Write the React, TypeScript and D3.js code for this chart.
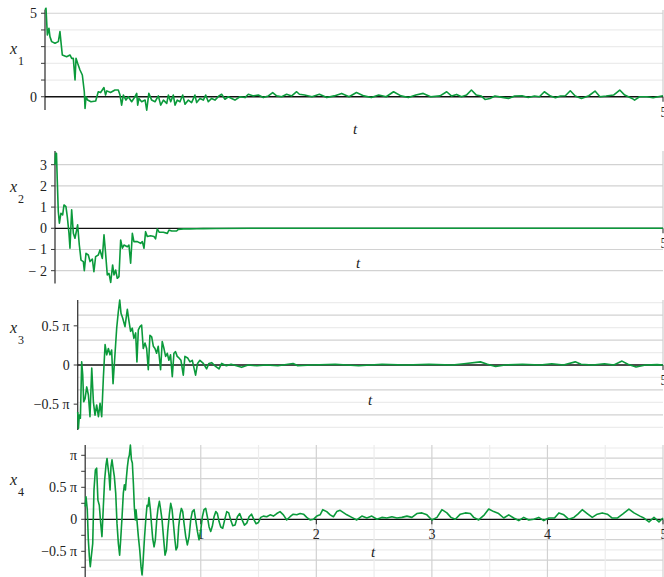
import React from 'react';
import * as d3 from 'd3';

const W = 664;
const H = 577;
const GREEN = '#0b9a3b';
const FONT = '"Liberation Serif", "Times New Roman", Times, serif';

// ---------- DATA ----------
// panel 1 : x1(t)
const t1 = [0, .008, .019, .032, .040, .054, .081, .108, .121, .129, .140, .175, .202, .216, .229, .243, .251, .264, .283, .302, .318, .324, .332, .345, .372, .410, .431, .450, .477, .49, .50, .53, .566, .593, .607, .620, .634, .655, .674, .701, .728, .742, .750, .76, .782, .81, .823, .84, .863, .89, .917, .936, .958, .985, .998, 1.017, 1.038, 1.052, 1.07, 1.092, 1.114, 1.133, 1.16, 1.186, 1.213, 1.227, 1.254, 1.281, 1.30, 1.321, 1.348, 1.375, 1.408, 1.429, 1.456, 1.483, 1.510, 1.537, 1.577, 1.618, 1.645, 1.686, 1.726, 1.766, 1.807, 1.842, 1.874, 1.915, 1.955, 1.996, 2.036, 2.058, 2.10, 2.16, 2.22, 2.28, 2.34, 2.40, 2.46, 2.52, 2.58, 2.64, 2.70, 2.76, 2.82, 2.88, 2.94, 3.00, 3.06, 3.12, 3.196, 3.25, 3.29, 3.33, 3.37, 3.41, 3.45, 3.49, 3.53, 3.56, 3.60, 3.64, 3.70, 3.75, 3.80, 3.86, 3.91, 3.96, 4.00, 4.04, 4.09, 4.13, 4.17, 4.21, 4.25, 4.29, 4.34, 4.40, 4.45, 4.49, 4.54, 4.60, 4.65, 4.69, 4.75, 4.77, 4.81, 4.87, 4.92, 4.96, 5.0];
const x1 = [5.2, 5.3, 3.7, 4.1, 3.6, 3.3, 3.2, 3.3, 3.9, 3.3, 2.5, 2.4, 2.5, 2.3, 2.3, 1.0, 2.3, 2.0, 1.6, 1.3, .3, -.7, 0, -.2, -.3, -.25, .3, .25, .55, .1, .35, .25, .4, .4, .1, -.5, .1, -.2, 0, -.3, 0, .2, -.5, -.1, -.3, -.2, -.8, .2, -.2, -.3, .05, -.5, -.2, -.4, .1, -.3, .1, -.5, -.2, -.3, .1, -.45, -.2, -.35, .1, -.35, -.1, -.2, .1, -.3, -.1, -.2, .05, .15, -.15, 0, -.1, -.2, 0, -.05, .15, .05, .1, -.05, .05, .25, .05, 0, .15, .05, .3, .15, .1, 0, .15, -.05, .05, .2, 0, .25, .05, -.05, .1, 0, .3, .05, -.05, .1, .2, 0, .05, .3, .04, .14, 0, .1, .4, .1, .04, -.16, -.1, .04, -.04, -.1, .04, .06, -.04, .04, 0, .3, .04, -.06, .04, .06, .36, .04, -.1, .06, .34, 0, .04, .1, .4, .1, -.1, -.2, 0, 0, -.06, 0, .06];

// panel 2 : x2(t)
const t2 = [0, .005, .012, .019, .027, .036, .049, .063, .074, .09, .101, .115, .123, .137, .151, .164, .178, .186, .2, .214, .233, .241, .255, .274, .288, .307, .32, .334, .356, .37, .389, .403, .416, .43, .444, .458, .474, .485, .499, .512, .526, .54, .554, .567, .595, .608, .622, .636, .649, .677, .704, .718, .732, .745, .759, .786, .814, .827, .841, .858, .891, .924, .937, .959, 1.0, 1.014, 1.056, 1.11, 1.165, 1.22, 1.33, 1.6, 2.5, 3.5, 5.0];
const x2 = [3.0, 3.54, 3.54, 2.2, .79, .24, .71, .63, 1.1, 1.02, .55, -.24, -.94, .87, -.24, -.47, -.08, .16, -.79, -1.5, -1.57, -2.0, -1.18, -1.26, -1.57, -1.45, -2.05, -1.34, -1.26, -1.02, -1.42, -.31, -1.18, -2.2, -2.13, -2.55, -1.73, -2.2, -1.97, -2.36, -2.28, -.55, -.94, -.79, -.87, -.79, -1.65, -.24, -.63, -.63, -.71, -.63, -.94, -.16, -.39, -.35, -.39, -.5, -.03, -.19, -.19, -.24, -.08, -.13, -.13, -.05, -.03, -.03, -.02, -.015, -.01, 0, 0, 0, 0];

// panel 3 : x3(t), in multiples of pi
const t3 = [0, .006, .014, .023, .034, .043, .051, .063, .077, .091, .105, .12, .134, .148, .162, .177, .191, .205, .219, .234, .248, .262, .276, .29, .302, .319, .333, .347, .359, .37, .384, .404, .424, .438, .452, .466, .48, .495, .506, .518, .532, .546, .56, .575, .589, .603, .617, .632, .646, .66, .674, .688, .708, .722, .737, .751, .765, .779, .793, .808, .822, .836, .85, .865, .882, .902, .916, .939, .959, .979, 1.007, 1.024, 1.044, 1.073, 1.101, 1.121, 1.144, 1.172, 1.207, 1.23, 1.27, 1.31, 1.356, 1.4, 1.456, 1.53, 1.61, 1.71, 1.84, 1.88, 2.0, 2.2, 2.4, 2.6, 2.8, 3.0, 3.2, 3.3, 3.44, 3.5, 3.57, 3.65, 3.8, 3.95, 4.05, 4.15, 4.25, 4.3, 4.4, 4.5, 4.58, 4.65, 4.7, 4.77, 4.85, 4.95, 5.0];
const x3 = [-.6, -.81, -.64, -.68, .04, -.13, -.47, -.43, -.28, -.38, -.66, -.04, -.47, -.64, -.51, -.66, -.49, -.66, -.17, .26, .13, .21, .13, .19, -.24, .15, .47, .68, .83, .66, .6, .49, .71, .56, .43, .47, .34, .41, .04, .45, .49, .51, .21, .28, .21, -.06, .38, .36, .24, .21, .15, .24, -.06, .3, .21, .11, .15, .06, .13, -.15, .15, .17, .11, .09, .06, -.13, .11, .09, .04, .06, -.13, .02, .06, .02, -.05, .02, .03, -.01, -.05, .02, -.01, .01, -.01, -.03, 0, -.01, 0, -.01, .02, -.01, 0, .01, -.01, .01, 0, .01, 0, .015, .04, .01, -.02, 0, .01, 0, .015, 0, .04, .01, 0, .015, 0, .05, .01, -.025, 0, .005, 0];

// panel 4 : x4(t), in multiples of pi
const t4 = [0, .007, .018, .027, .036, .044, .053, .065, .076, .088, .099, .11, .122, .134, .145, .157, .168, .18, .189, .197, .206, .215, .223, .232, .24, .252, .264, .275, .287, .298, .307, .319, .33, .339, .348, .356, .365, .374, .382, .391, .4, .408, .417, .425, .434, .44, .449, .46, .472, .483, .492, .5, .512, .524, .535, .544, .552, .564, .573, .584, .596, .607, .619, .63, .642, .653, .665, .677, .691, .703, .714, .729, .74, .752, .763, .775, .786, .798, .809, .821, .832, .844, .855, .87, .884, .899, .913, .927, .942, .956, .971, .985, 1.0, 1.014, 1.028, 1.043, 1.057, 1.072, 1.086, 1.1, 1.115, 1.13, 1.144, 1.159, 1.173, 1.19, 1.207, 1.225, 1.242, 1.259, 1.277, 1.297, 1.317, 1.337, 1.358, 1.378, 1.398, 1.418, 1.439, 1.459, 1.479, 1.499, 1.519, 1.542, 1.571, 1.6, 1.629, 1.658, 1.686, 1.715, 1.744, 1.773, 1.8, 1.831, 1.86, 1.889, 1.917, 1.946, 1.975, 2.004, 2.033, 2.056, 2.09, 2.12, 2.148, 2.177, 2.206, 2.264, 2.307, 2.35, 2.394, 2.437, 2.48, 2.524, 2.567, 2.61, 2.654, 2.697, 2.74, 2.784, 2.827, 2.87, 2.914, 2.957, 3.0, 3.044, 3.087, 3.13, 3.165, 3.203, 3.246, 3.289, 3.333, 3.362, 3.405, 3.454, 3.492, 3.535, 3.578, 3.622, 3.665, 3.708, 3.752, 3.795, 3.838, 3.882, 3.925, 3.968, 4.012, 4.061, 4.099, 4.142, 4.185, 4.229, 4.263, 4.301, 4.344, 4.388, 4.431, 4.474, 4.518, 4.561, 4.604, 4.656, 4.705, 4.749, 4.801, 4.835, 4.879, 4.922, 4.965, 5.0];
const x4 = [.2, .35, .15, -.32, -.58, -.74, -.58, -.38, .46, .77, .8, .3, .22, -.06, -.27, .2, .61, .85, .95, .82, .69, .46, .82, .93, .82, .67, .41, -.06, -.38, -.56, -.32, .04, .41, .54, .46, .64, .82, .95, 1.0, 1.16, .93, .88, .56, .2, -.01, .15, -.04, -.27, -.48, -.74, -.87, -.69, -.32, -.01, .22, .2, .34, .15, -.06, -.3, -.43, -.32, -.01, .17, .28, .15, -.01, -.27, -.56, -.48, -.19, .09, .25, .15, -.06, -.3, -.48, -.43, -.11, .07, .17, .12, -.06, -.27, -.4, -.27, -.01, .12, .15, -.01, -.19, -.32, -.17, .04, .15, .17, .04, -.12, -.19, -.11, .04, .12, .09, -.04, -.12, -.14, -.01, .12, .1, -.01, -.1, -.09, .04, .09, -.01, -.09, -.06, .04, .08, 0, -.07, -.05, .03, .05, .04, .07, .05, .09, .12, .07, -.01, .04, .08, .07, .09, .08, .03, -.01, 0, .05, .07, .15, .12, .07, .04, .12, .14, .07, .03, -.01, .05, .02, .05, 0, .03, .02, .04, .02, .03, .05, .03, .09, .1, .07, -.01, .03, .15, .1, .03, 0, .08, .1, .09, .03, -.01, .07, .16, .12, .09, .02, .07, .02, -.02, .03, -.01, 0, .03, -.02, .02, .02, .1, .07, 0, .03, .08, .15, .09, .03, .08, .1, .08, .02, .02, .09, .16, .1, .05, .02, -.04, .03, -.04, .02, .03];

const xTickLabels = ['1', '2', '3', '4', '5'];

// ---------- PANEL ----------
type Tick = { v: number; label?: string };
type PanelProps = {
  left: number; right: number; top: number; bottom: number;
  yDomain: [number, number];
  ts: number[]; ys: number[];
  yTicks: Tick[];
  hGrid: { v: number; major: boolean }[];
  vGrid?: boolean;
  fullXTicks?: boolean;
  tLabel: [number, number];
  yLab: string; yLabY: number;
};

function Panel(p: PanelProps) {
  const x = d3.scaleLinear().domain([0, 5]).range([p.left, p.right]);
  const y = d3.scaleLinear().domain(p.yDomain).range([p.bottom, p.top]);
  const line = d3.line<number>().x((_, i) => x(p.ts[i])).y((d) => y(d));
  const y0 = y(0);
  const vg: { v: number; major: boolean }[] = [];
  if (p.vGrid) for (let k = 1; k <= 10; k++) vg.push({ v: k / 2, major: k % 2 === 0 });
  return (
    <g>
      {p.hGrid.map((g, i) => (
        <line key={'h' + i} x1={p.left} x2={p.right} y1={y(g.v)} y2={y(g.v)}
          stroke={g.major ? '#d2d2d2' : '#ececec'} strokeWidth={1.2} />
      ))}
      {vg.map((g, i) => (
        <line key={'v' + i} x1={x(g.v)} x2={x(g.v)} y1={p.top} y2={p.bottom}
          stroke={g.major ? '#d2d2d2' : '#ececec'} strokeWidth={1.2} />
      ))}
      {!p.vGrid && (
        <line x1={x(5)} x2={x(5)} y1={p.top} y2={y0} stroke="#cfcfcf" strokeWidth={1.2} />
      )}
      {/* y axis */}
      <line x1={p.left} x2={p.left} y1={p.top} y2={p.bottom} stroke="#3a3a3a" strokeWidth={1.3} />
      {p.yTicks.map((t, i) => (
        <g key={'yt' + i}>
          <line x1={p.left - 4} x2={p.left} y1={y(t.v)} y2={y(t.v)} stroke="#3a3a3a" strokeWidth={1} />
          {t.label && (
            <text x={p.left - 8} y={y(t.v)} dy="0.35em" textAnchor="end" fontSize={14}
              fontFamily={FONT} fill="#222">{t.label}</text>
          )}
        </g>
      ))}
      {/* x axis */}
      <line x1={p.left} x2={p.right} y1={y0} y2={y0} stroke="#111" strokeWidth={1.3} />
      {(p.fullXTicks ? [1, 2, 3, 4, 5] : [5]).map((v) => (
        <g key={'xt' + v}>
          <line x1={x(v)} x2={x(v)} y1={y0} y2={y0 + 5} stroke="#222" strokeWidth={1} />
          <text x={x(v) + (v === 5 ? 1 : 0)} y={y0 + 15} dy="0.35em" textAnchor="middle" fontSize={14}
            fontFamily={FONT} fill="#222">{xTickLabels[v - 1]}</text>
        </g>
      ))}
      <text x={p.tLabel[0]} y={p.tLabel[1]} dy="0.35em" textAnchor="middle" fontSize={15}
        fontStyle="italic" fontFamily={FONT} fill="#222">t</text>
      <text x={10} y={p.yLabY} fontSize={16} fontStyle="italic" fontFamily={FONT} fill="#222">x</text>
      <text x={18} y={p.yLabY + 11} fontSize={12} fontFamily={FONT} fill="#222">{p.yLab}</text>
      <path d={line(p.ys) || ''} fill="none" stroke={GREEN} strokeWidth={1.6} strokeLinejoin="round" />
    </g>
  );
}

function radGrid(maxRad: number): { v: number; major: boolean }[] {
  const out: { v: number; major: boolean }[] = [];
  for (let k = 1; k * 0.5 <= maxRad + 1e-9; k++) {
    out.push({ v: (k * 0.5) / Math.PI, major: k % 2 === 0 });
    out.push({ v: -(k * 0.5) / Math.PI, major: k % 2 === 0 });
  }
  return out;
}

export default function App() {
  return (
    <svg width={W} height={H} style={{ position: 'absolute', left: 0, top: 0, background: '#fff' }}>
      <Panel left={45} right={663} top={9.9} bottom={110.1} yDomain={[-0.8, 5.2]}
        ts={t1} ys={x1}
        yTicks={[{ v: 0, label: '0' }, { v: 1 }, { v: 2 }, { v: 3 }, { v: 4 }, { v: 5, label: '5' }]}
        hGrid={[1, 2, 3, 4].map((v) => ({ v, major: false })).concat([{ v: 5, major: true }])}
        tLabel={[355, 129]} yLab="1" yLabY={54} />
      <Panel left={55} right={663} top={150.9} bottom={283.4} yDomain={[-2.6, 3.65]}
        ts={t2} ys={x2}
        yTicks={[-2, -1, 0, 1, 2, 3].map((v) => ({ v, label: v < 0 ? '\u2212 ' + Math.abs(v) : String(v) }))}
        hGrid={[-2, -1, 1, 2, 3].map((v) => ({ v, major: true }))}
        tLabel={[358, 263]} yLab="2" yLabY={192} />
      <Panel left={77.7} right={663} top={300} bottom={430} yDomain={[-0.83, 0.83]}
        ts={t3} ys={x3}
        yTicks={[{ v: -0.5, label: '\u22120.5 \u03c0' }, { v: 0, label: '0' }, { v: 0.5, label: '0.5 \u03c0' }]}
        hGrid={radGrid(2.5)}
        tLabel={[370, 400]} yLab="3" yLabY={333} />
      <Panel left={85.2} right={663} top={445} bottom={577} yDomain={[-0.9016, 1.161]}
        ts={t4} ys={x4}
        yTicks={[{ v: -0.75 }, { v: -0.5, label: '\u22120.5 \u03c0' }, { v: -0.25 }, { v: 0, label: '0' }, { v: 0.25 }, { v: 0.5, label: '0.5 \u03c0' }, { v: 0.75 }, { v: 1, label: '\u03c0' }]}
        hGrid={radGrid(3.5)}
        vGrid fullXTicks
        tLabel={[373, 552]} yLab="4" yLabY={485} />
    </svg>
  );
}
